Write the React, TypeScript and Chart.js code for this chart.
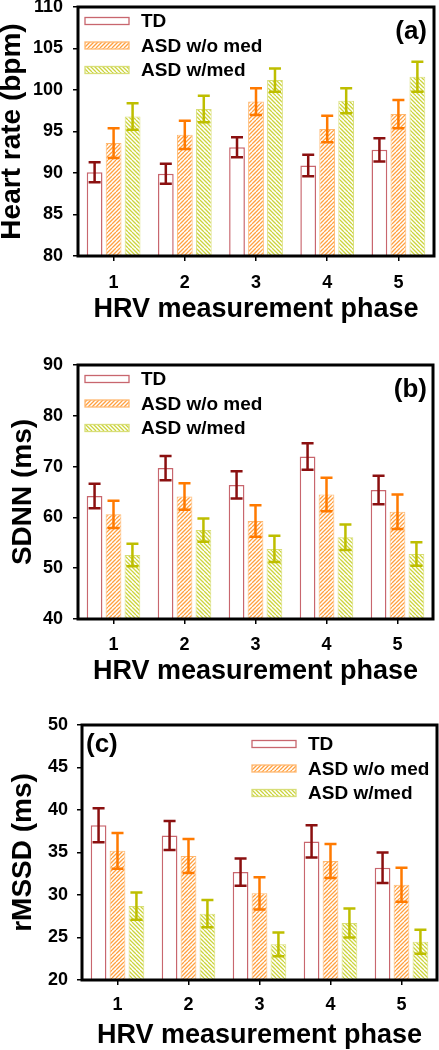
import React, { useEffect, useRef } from 'react';
import { Chart, registerables } from 'chart.js';

Chart.register(...registerables);

const FONT = '"Liberation Sans", Arial, Helvetica, sans-serif';

// ---------- data ----------
const phases = ['1', '2', '3', '4', '5'];
const seriesNames = ['TD', 'ASD w/o med', 'ASD w/med'];

// (a) Heart rate (bpm)
const hrTD = [90.1, 89.9, 93.1, 90.9, 92.8];
const hrTDErr = [1.2, 1.2, 1.2, 1.3, 1.4];
const hrNoMed = [93.6, 94.6, 98.6, 95.3, 97.1];
const hrNoMedErr = [1.8, 1.7, 1.6, 1.6, 1.7];
const hrMed = [96.8, 97.7, 101.2, 98.7, 101.6];
const hrMedErr = [1.6, 1.6, 1.4, 1.5, 1.8];

// (b) SDNN (ms)
const sdnnTD = [64.2, 69.7, 66.4, 72.0, 65.4];
const sdnnTDErr = [2.4, 2.4, 2.7, 2.6, 2.8];
const sdnnNoMed = [60.6, 64.1, 59.3, 64.5, 61.1];
const sdnnNoMedErr = [2.7, 2.6, 3.1, 3.3, 3.4];
const sdnnMed = [52.6, 57.5, 53.8, 56.1, 52.8];
const sdnnMedErr = [2.2, 2.3, 2.6, 2.5, 2.3];

// (c) rMSSD (ms)
const rmssdTD = [38.2, 37.0, 32.7, 36.3, 33.2];
const rmssdTDErr = [2.0, 1.7, 1.6, 1.9, 1.8];
const rmssdNoMed = [35.2, 34.6, 30.2, 34.0, 31.2];
const rmssdNoMedErr = [2.1, 2.0, 1.9, 2.0, 2.0];
const rmssdMed = [28.7, 27.8, 24.2, 26.7, 24.5];
const rmssdMedErr = [1.6, 1.6, 1.4, 1.7, 1.4];

// ---------- styles ----------
const TD_BORDER = '#C8666E';
const TD_ERR = '#8B1010';
const NOMED_LINE = '#FFA040';
const NOMED_BORDER = '#FFB870';
const NOMED_ERR = '#FF7A00';
const MED_LINE = '#CCD43C';
const MED_BORDER = '#D8DE78';
const MED_ERR = '#BEBE00';

function makePattern(color: string, dir: '/' | '\\') {
  const c = document.createElement('canvas');
  c.width = 8;
  c.height = 8;
  const ctx = c.getContext('2d')!;
  ctx.fillStyle = '#ffffff';
  ctx.fillRect(0, 0, 8, 8);
  ctx.strokeStyle = color;
  ctx.lineWidth = 1.3;
  ctx.beginPath();
  for (const s of [-8, -4, 0, 4, 8]) {
    if (dir === '/') {
      ctx.moveTo(s, 8);
      ctx.lineTo(s + 8, 0);
    } else {
      ctx.moveTo(s, 0);
      ctx.lineTo(s + 8, 8);
    }
  }
  ctx.stroke();
  return ctx.createPattern(c, 'repeat')!;
}

type PanelCfg = {
  top: number;
  height: number;
  plot: { left: number; right: number; top: number; bottom: number };
  values: number[][];
  errors: number[][];
  yMin: number;
  yMax: number;
  step: number;
  yTitle: string;
  yTitlePad: number;
  yTickPad: number;
  xTickPad: number;
  xTitlePad: number;
  letter: string;
  letterX: number;
  letterY: number;
  letterAlign: 'left' | 'right';
  legendX: number;
  legendY: number;
};

const panels: PanelCfg[] = [
  {
    top: 0,
    height: 335,
    plot: { left: 78, right: 434, top: 7, bottom: 256 },
    values: [hrTD, hrNoMed, hrMed],
    errors: [hrTDErr, hrNoMedErr, hrMedErr],
    yMin: 80,
    yMax: 110,
    step: 5,
    yTitle: 'Heart rate (bpm)',
    yTitlePad: -2,
    yTickPad: 10,
    xTickPad: 11,
    xTitlePad: 11.5,
    letter: '(a)',
    letterX: 427,
    letterY: 32,
    letterAlign: 'right',
    legendX: 85,
    legendY: 21,
  },
  {
    top: 335,
    height: 355,
    plot: { left: 78, right: 433, top: 30, bottom: 284 },
    values: [sdnnTD, sdnnNoMed, sdnnMed],
    errors: [sdnnTDErr, sdnnNoMedErr, sdnnMedErr],
    yMin: 40,
    yMax: 90,
    step: 10,
    yTitle: 'SDNN (ms)',
    yTitlePad: 9,
    yTickPad: 10,
    xTickPad: 10,
    xTitlePad: 4.5,
    letter: '(b)',
    letterX: 427,
    letterY: 55,
    letterAlign: 'right',
    legendX: 85,
    legendY: 44,
  },
  {
    top: 690,
    height: 360,
    plot: { left: 82, right: 437, top: 35, bottom: 290 },
    values: [rmssdTD, rmssdNoMed, rmssdMed],
    errors: [rmssdTDErr, rmssdNoMedErr, rmssdMedErr],
    yMin: 20,
    yMax: 50,
    step: 5,
    yTitle: 'rMSSD (ms)',
    yTitlePad: 9,
    yTickPad: 9,
    xTickPad: 9,
    xTitlePad: 0.5,
    letter: '(c)',
    letterX: 86,
    letterY: 55,
    letterAlign: 'left',
    legendX: 252,
    legendY: 54,
  },
];

function buildChart(canvas: HTMLCanvasElement, p: PanelCfg) {
  const fills = [
    '#ffffff',
    makePattern(NOMED_LINE, '/'),
    makePattern(MED_LINE, '\\'),
  ];
  const borders = [TD_BORDER, NOMED_BORDER, MED_BORDER];
  const errColors = [TD_ERR, NOMED_ERR, MED_ERR];

  const errorBars = {
    id: 'errorBars',
    afterDatasetsDraw(chart: any) {
      const ctx = chart.ctx;
      const y = chart.scales.y;
      ctx.save();
      p.values.forEach((vals, i) => {
        const meta = chart.getDatasetMeta(i);
        ctx.strokeStyle = errColors[i];
        ctx.lineWidth = 2.5;
        meta.data.forEach((bar: any, j: number) => {
          const x = bar.x;
          const yt = y.getPixelForValue(vals[j] + p.errors[i][j]);
          const yb = y.getPixelForValue(vals[j] - p.errors[i][j]);
          const hw = 6;
          ctx.beginPath();
          ctx.moveTo(x, yt);
          ctx.lineTo(x, yb);
          ctx.moveTo(x - hw, yt);
          ctx.lineTo(x + hw, yt);
          ctx.moveTo(x - hw, yb);
          ctx.lineTo(x + hw, yb);
          ctx.stroke();
        });
      });
      ctx.restore();
    },
  };

  const frame = {
    id: 'frame',
    afterDraw(chart: any) {
      const { ctx, chartArea } = chart;
      ctx.save();
      ctx.strokeStyle = '#000';
      ctx.lineWidth = 3;
      ctx.strokeRect(
        chartArea.left,
        chartArea.top,
        chartArea.right - chartArea.left,
        chartArea.bottom - chartArea.top
      );
      // legend inside plot
      ctx.font = `bold 19px ${FONT}`;
      ctx.textBaseline = 'middle';
      ctx.textAlign = 'left';
      seriesNames.forEach((name, i) => {
        const ry = p.legendY + i * 24.5;
        ctx.fillStyle = fills[i];
        ctx.fillRect(p.legendX, ry - 3.5, 44, 7);
        ctx.strokeStyle = borders[i];
        ctx.lineWidth = 1.3;
        ctx.strokeRect(p.legendX, ry - 3.5, 44, 7);
        ctx.fillStyle = '#000';
        ctx.fillText(name, p.legendX + 56, ry + 1);
      });
      // panel letter
      ctx.font = `bold 26px ${FONT}`;
      ctx.textAlign = p.letterAlign;
      ctx.fillText(p.letter, p.letterX, p.letterY);
      ctx.restore();
    },
  };

  return new Chart(canvas, {
    type: 'bar',
    data: {
      labels: phases,
      datasets: p.values.map((vals, i) => ({
        label: seriesNames[i],
        data: vals,
        backgroundColor: fills[i] as any,
        borderColor: borders[i],
        borderWidth: i === 0 ? 1.5 : 1,
        categoryPercentage: 0.8,
        barPercentage: 0.83,
      })),
    },
    options: {
      responsive: false,
      animation: false,
      devicePixelRatio: 1,
      layout: {
        padding: { left: 0, top: p.plot.top, right: 439 - p.plot.right, bottom: 0 },
      },
      plugins: {
        legend: { display: false },
        tooltip: { enabled: false },
      },
      scales: {
        x: {
          grid: {
            offset: false,
            drawOnChartArea: false,
            drawTicks: true,
            tickLength: 5,
            color: '#000',
            lineWidth: 1.5,
          },
          border: { display: false },
          ticks: {
            color: '#000',
            padding: p.xTickPad,
            font: { family: FONT, size: 18, weight: 'bold' },
            maxRotation: 0,
          },
          title: {
            display: true,
            text: 'HRV measurement phase',
            color: '#000',
            font: { family: FONT, size: 27, weight: 'bold', lineHeight: 1 },
            padding: { top: 0, bottom: p.xTitlePad },
          },
          afterFit: (s: any) => {
            s.height = p.height - p.plot.bottom;
            s.paddingLeft = 0;
            s.paddingRight = 0;
          },
        },
        y: {
          min: p.yMin,
          max: p.yMax,
          grid: {
            drawOnChartArea: false,
            drawTicks: true,
            tickLength: 5,
            color: '#000',
            lineWidth: 1.5,
          },
          border: { display: false },
          ticks: {
            stepSize: p.step,
            color: '#000',
            padding: p.yTickPad,
            font: { family: FONT, size: 18, weight: 'bold' },
          },
          title: {
            display: true,
            text: p.yTitle,
            color: '#000',
            font: { family: FONT, size: 28, weight: 'bold', lineHeight: 1 },
            padding: { top: p.yTitlePad, bottom: 0 },
          },
          afterFit: (s: any) => {
            s.width = p.plot.left;
            s.paddingTop = 0;
            s.paddingBottom = 0;
          },
        },
      },
    },
    plugins: [errorBars, frame],
  } as any);
}

export default function App() {
  const refs = [
    useRef<HTMLCanvasElement>(null),
    useRef<HTMLCanvasElement>(null),
    useRef<HTMLCanvasElement>(null),
  ];

  useEffect(() => {
    const charts = panels.map((p, i) => buildChart(refs[i].current!, p));
    return () => charts.forEach((c) => c.destroy());
  }, []);

  return (
    <div
      style={{
        position: 'absolute',
        left: 0,
        top: 0,
        width: 439,
        height: 1050,
        background: '#fff',
        overflow: 'hidden',
      }}
    >
      {panels.map((p, i) => (
        <canvas
          key={i}
          ref={refs[i]}
          width={439}
          height={p.height}
          style={{ position: 'absolute', left: 0, top: p.top, width: 439, height: p.height }}
        />
      ))}
    </div>
  );
}
